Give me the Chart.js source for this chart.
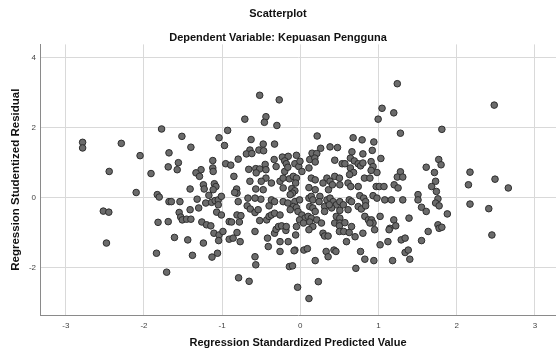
<!DOCTYPE html>
<html>
<head>
<meta charset="utf-8">
<script src="https://cdn.jsdelivr.net/npm/chart.js@4.4.1/dist/chart.umd.min.js"></script>
<style>
  html, body { margin: 0; padding: 0; background: #fff; overflow: hidden; }
  canvas { display: block; }
</style>
</head>
<body>
<canvas id="grafico" width="556" height="356"></canvas>
<script>
// tick labels
const xTicks = [-3, -2, -1, 0, 1, 2, 3];
const yTicks = [-2, 0, 2, 4];

// residual points: [predicted, residual]
const pontosEsquerda = [
  [-1.775,1.96],[-2.785,1.58],[-2.785,1.42],[-2.29,1.55],[-2.05,1.20],[-1.68,1.28],[-2.445,0.75],
  [-1.91,0.69],[-1.69,0.88],[-2.10,0.15],[-1.83,0.09],[-1.805,0.02],[-1.68,-0.11],[-2.52,-0.38],
  [-2.45,-0.41],[-1.82,-0.70],[-1.69,-0.68],[-2.48,-1.29],[-1.84,-1.58],[-1.71,-2.12]
];

const pontosCentroAlto = [
  [-0.52,2.92],[-0.27,2.79],[-0.71,2.24],[-0.44,2.31],[-0.46,2.15],[-0.30,2.06],[-0.93,1.92],
  [-1.515,1.75],[-1.04,1.71],[-0.97,1.49],[-1.40,1.44],[-0.63,1.66],[-0.475,1.53],[-0.33,1.53],
  [-0.645,1.36],[-0.69,1.25],[-0.62,1.26],[-0.53,1.36],[-0.47,1.34],[-0.795,1.10],[-1.12,1.06],
  [-1.56,1.00],[-1.575,0.80],[-1.12,0.85],[-1.115,0.75],[-1.27,0.80],[-1.335,0.71],[-1.29,0.61],
  [-0.955,0.97],[-0.89,0.93],[-0.335,1.09],[-0.45,0.95],[-0.66,0.81],[-0.57,0.83],[-0.52,0.82],
  [-0.565,0.71],[-0.44,0.80],[-0.85,0.61],[-0.23,1.16],[-0.155,1.18],[-0.05,1.21],[-0.20,1.05],
  [-0.18,0.97],[-0.07,0.97],[-0.44,0.56]
];

const pontosCentroEsq = [
  [-1.41,0.25],[-1.24,0.37],[-1.23,0.25],[-1.10,0.40],[-1.08,0.32],[-0.815,0.25],[-0.81,0.13],
  [-0.84,0.15],[-0.67,-0.01],[-0.57,0.25],[-0.50,0.47],[-0.505,-0.04],[-1.65,-0.11],[-1.54,-0.11],
  [-1.32,-0.04],[-1.21,-0.15],[-1.135,-0.13],[-1.09,-0.08],[-1.05,-0.06],[-1.01,0.04],[-1.17,0.07],
  [-1.30,-0.29],[-1.41,-0.34],[-1.55,-0.42],[-1.53,-0.55],[-1.51,-0.63],[-1.455,-0.61],[-1.40,-0.61],
  [-1.26,-0.69],[-1.20,-0.77],[-1.145,-0.80],[-1.07,-0.41],[-1.01,-0.49],[-1.105,-1.01],[-1.04,-1.06],
  [-0.99,-0.96],[-1.045,-1.22],[-1.24,-1.29],[-1.44,-1.20],[-1.61,-1.13],[-0.91,-0.68],[-0.88,-0.69],
  [-0.81,-0.49],[-0.76,-0.51],[-0.78,-0.69],[-0.81,-0.99],[-0.91,-1.18],[-0.86,-1.15],[-0.77,-1.25],
  [-1.06,-1.58],[-1.13,-1.69],[-1.38,-1.64],[-0.79,-2.28],[-0.655,-2.38],[-0.58,-1.68],[-0.57,-1.91],
  [-0.68,-0.23],[-0.64,-0.32],[-0.58,-0.42],[-0.54,-0.34],[-0.52,-0.65],[-0.58,-0.96],[-0.43,-0.63],
  [-0.40,-0.53],[-0.40,-0.23],[-0.42,-1.15],[-0.41,-1.39],[-0.33,-1.01],[-0.26,-1.25],[-0.185,-0.93],
  [-0.06,-1.06],[-0.155,-1.25],[-0.07,-1.49],[-0.14,-1.96],[-0.10,-1.94],[-0.035,-2.55],[-0.26,-1.53],
  [-0.31,-0.90],[-0.28,-0.82],[-0.24,-0.80],
  [-0.795,-0.11],[-0.645,0.47],[-0.475,0.23],[-1.05,-0.20],[-1.115,0.23],[-0.58,-0.01]
];

const pontosNucleo = [
  [-0.31,0.89],[-0.20,0.75],[-0.16,0.87],[-0.02,0.89],[0.02,0.75],[0.11,0.85],[0.14,0.56],
  [0.19,0.51],[0.34,0.56],[0.38,0.47],[0.44,0.61],[-0.37,0.42],[-0.26,0.47],[-0.22,0.56],
  [-0.14,0.54],[-0.09,0.61],[-0.05,0.56],[-0.06,0.42],[-0.22,0.28],[-0.11,0.26],[-0.07,0.20],
  [-0.10,0.13],[-0.13,0.09],[0.11,0.29],[0.19,0.23],[0.29,0.42],[0.36,0.23],[0.41,0.37],
  [-0.37,-0.06],[-0.33,-0.11],[-0.22,-0.11],[-0.16,-0.15],[-0.07,-0.11],[-0.01,-0.06],[-0.09,-0.25],
  [-0.13,-0.34],[-0.05,-0.28],[-0.03,-0.39],[0.11,-0.01],[0.14,0.04],[0.16,-0.06],[0.25,0.04],
  [0.24,-0.11],[0.34,-0.06],[0.38,-0.01],[0.42,-0.11],[0.46,-0.20],[0.40,-0.29],[0.31,-0.25],
  [0.37,-0.20],[0.12,-0.25],[0.16,-0.29],[-0.37,-0.49],[-0.33,-0.44],[-0.26,-0.49],[0.02,-0.49],
  [0.06,-0.58],[0.10,-0.53],[0.14,-0.58],[0.21,-0.63],[0.27,-0.72],[0.19,-0.39],[0.31,-0.39],
  [0.46,-0.53],[-0.01,-0.63],[0.04,-0.72],[0.12,-0.69],[-0.05,-0.82],[-0.18,-0.82],[0.16,-0.82],
  [0.44,-0.72]
];

const pontosCentroDir = [
  [1.24,3.25],[1.045,2.55],[1.195,2.42],[0.995,2.24],[1.28,1.84],[0.215,1.76],[0.675,1.71],
  [0.79,1.65],[0.94,1.59],[0.26,1.41],[0.38,1.45],[0.475,1.43],[0.66,1.31],[0.80,1.25],
  [0.92,1.35],[1.03,1.12],[0.15,1.27],[0.21,1.26],[0.12,1.09],[0.185,1.13],[-0.005,1.04],
  [0.19,1.02],[0.44,1.07],[0.535,0.97],[0.57,0.97],[0.64,1.13],[0.69,1.05],[0.64,0.85],
  [0.68,0.72],[0.63,0.66],[0.74,0.97],[0.77,0.91],[0.80,0.99],[0.905,1.03],[0.93,0.89],
  [0.98,0.72],[0.905,0.78],[1.28,0.74],[1.61,0.87],[0.50,0.56],[0.82,0.56],[0.89,0.56],
  [1.24,0.59],[1.31,0.59],
  [0.505,0.37],[0.61,0.42],[0.645,0.32],[0.74,0.32],[0.97,0.32],[1.01,0.32],[1.07,0.32],
  [1.20,0.37],[1.25,0.28],[0.505,-0.11],[0.55,-0.20],[0.625,-0.06],[0.655,-0.11],[0.505,-0.36],
  [0.61,-0.34],[0.505,-0.58],[0.505,-0.72],[0.50,-0.80],[0.57,-0.71],[0.29,-1.01],[0.31,-1.09],
  [0.355,-1.09],[0.50,-0.96],[0.555,-0.96],[0.625,-0.99],[0.655,-0.82],[0.70,-1.11],[0.59,-1.25],
  [0.74,-0.25],[0.78,-0.32],[0.76,0.06],[0.81,-0.01],[0.835,-0.11],[0.835,-0.23],[0.825,-0.53],
  [0.87,-0.63],[0.91,-0.63],[0.93,-0.72],[0.89,-0.72],[0.80,-1.01],[0.93,0.06],[0.98,-0.01],
  [1.02,-0.53],[0.77,-1.53],[0.33,-1.53],[0.355,-1.68],[0.43,-1.49],[0.455,-1.53],[0.19,-1.79],
  [0.045,-1.49],[0.09,-1.45],[0.825,-1.75],[0.94,-1.79],[0.71,-2.01],[0.23,-2.39],[0.11,-2.87],
  [1.08,-0.06],[1.165,-0.06],[1.31,-0.06],[1.505,0.09],[1.505,-0.06],[1.55,-0.27],[1.61,-0.39],
  [1.39,-0.58],[1.195,-0.63],[1.22,-0.80],[1.145,-0.87],[1.135,-0.91],[1.02,-1.34],[1.12,-1.25],
  [1.29,-1.20],[1.34,-1.15],[1.34,-1.56],[1.38,-1.49],[1.40,-1.75],[1.18,-1.79],[1.55,-1.22],
  [1.635,-0.96],[0.95,-0.91],[0.11,-0.91],[-0.08,-1.51]
];

const pontosDireita = [
  [2.48,2.64],[1.81,1.95],[1.77,1.09],[1.80,0.94],[1.715,0.72],[2.17,0.73],[2.49,0.53],
  [1.73,0.47],[1.68,0.32],[1.74,0.18],[2.15,0.37],[2.66,0.28],[1.76,-0.03],[1.73,-0.15],
  [1.775,-0.23],[1.88,-0.46],[2.17,-0.18],[2.41,-0.31],[1.76,-0.77],[1.775,-0.87],[1.81,-0.84],
  [2.45,-1.06]
];

const todosPontos = [].concat(pontosEsquerda, pontosCentroAlto, pontosCentroEsq,
  pontosNucleo, pontosCentroDir, pontosDireita).map(p => ({ x: p[0], y: p[1] }));

const fonte = "'Liberation Sans', Arial, sans-serif";

new Chart(document.getElementById('grafico'), {
  type: 'scatter',
  data: {
    datasets: [{
      label: 'Residual',
      data: todosPontos,
      backgroundColor: '#6b6b6b',
      borderColor: '#2e2e2e',
      borderWidth: 1,
      pointRadius: 3.3,
      pointHoverRadius: 3.3
    }]
  },
  options: {
    responsive: false,
    animation: false,
    layout: { autoPadding: false, padding: { top: 0, right: 0, bottom: 0, left: 0 } },
    plugins: {
      legend: { display: false },
      tooltip: { enabled: false },
      title: {
        display: true,
        text: 'Scatterplot',
        color: '#111',
        font: { family: fonte, size: 11, weight: 'bold' },
        padding: { top: 7, bottom: 5 }
      },
      subtitle: {
        display: true,
        text: 'Dependent Variable: Kepuasan Pengguna',
        color: '#111',
        font: { family: fonte, size: 11, weight: 'bold' },
        padding: { top: 6, bottom: 0 }
      }
    },
    scales: {
      x: {
        type: 'linear',
        min: -3.33,
        max: 3.27,
        afterBuildTicks: s => { s.ticks = xTicks.map(v => ({ value: v })); },
        afterFit: s => { s.height = 41; },
        grid: { color: '#d9d9d9', drawTicks: false },
        border: { color: '#8a8a8a' },
        ticks: { color: '#444', padding: 6, stepSize: 1, includeBounds: false, font: { family: fonte, size: 8 } },
        title: {
          display: true,
          text: 'Regression Standardized Predicted Value',
          color: '#111',
          font: { family: fonte, size: 11, weight: 'bold' },
          padding: { top: 0, bottom: 6 }
        }
      },
      y: {
        type: 'linear',
        min: -3.34,
        max: 4.37,
        afterBuildTicks: s => { s.ticks = yTicks.map(v => ({ value: v })); },
        afterFit: s => { s.width = 40; },
        grid: { color: '#d9d9d9', drawTicks: false },
        border: { color: '#8a8a8a' },
        ticks: { color: '#444', padding: 4, stepSize: 2, includeBounds: false, font: { family: fonte, size: 8 } },
        title: {
          display: true,
          text: 'Regression Studentized Residual',
          color: '#111',
          font: { family: fonte, size: 11.5, weight: 'bold' },
          padding: { top: 9, bottom: 0 }
        }
      }
    }
  }
});
</script>
</body>
</html>
